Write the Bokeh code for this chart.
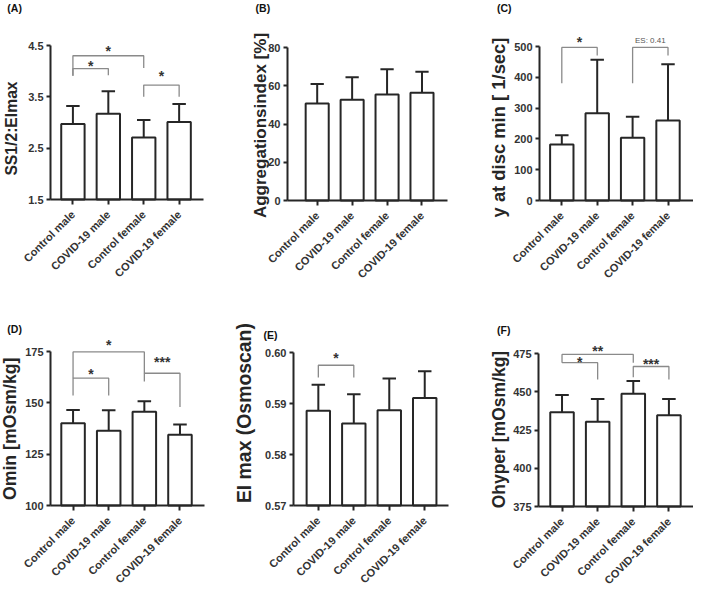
import math
from bokeh.plotting import figure
from bokeh.models import (Range1d, FixedTicker, LabelSet, ColumnDataSource, Label,
                          NumeralTickFormatter)
from bokeh.core.properties import value
from bokeh.layouts import column, row
from bokeh.embed import file_html
from bokeh.resources import INLINE

# ---------------- data ----------------
groups = ["Control male", "COVID-19 male", "Control female", "COVID-19 female"]

ss_mean = [2.97, 3.17, 2.71, 3.01]
ss_sd = [0.35, 0.44, 0.34, 0.35]

agg_mean = [50.7, 52.7, 55.4, 56.4]
agg_sd = [10.2, 11.7, 13.2, 10.9]

gamma_mean = [182, 283, 204, 260]
gamma_sd = [30, 174, 68, 182]

omin_mean = [140.0, 136.4, 145.6, 134.5]
omin_sd = [6.5, 10.0, 5.2, 5.0]

eimax_mean = [0.5886, 0.5861, 0.5887, 0.5911]
eimax_sd = [0.0051, 0.0057, 0.0062, 0.0052]

ohyper_mean = [436.6, 430.4, 448.7, 434.7]
ohyper_sd = [11.2, 14.9, 8.3, 10.6]

# brackets: (group i, group j, bracket y, left leg end, right leg end, label)
ss_brackets = [(0, 2, 4.30, 3.91, 4.06, "*"), (0, 1, 4.05, 3.91, 3.92, "*"),
               (2, 3, 3.73, 3.50, 3.50, "*")]
gamma_brackets = [(0, 1, 497, 381, 471, "*"), (2, 3, 497, 381, 471, "ES: 0.41")]
omin_brackets = [(0, 2, 174.8, 162.0, 164.4, "*"), (0, 1, 162.0, 153.6, 153.6, "*"),
                 (2, 3, 164.4, 160.4, 148.0, "***")]
eimax_brackets = [(0, 1, 0.5975, 0.5951, 0.5951, "*")]
ohyper_brackets = [(0, 2, 474.4, 469.0, 469.0, "**"), (0, 1, 469.0, 469.0, 458.0, "*"),
                   (2, 3, 466.5, 459.5, 458.0, "***")]

# ---------------- style ----------------
DARK = "#262626"
TXT = "#333333"
GRAY = "#8a8a8a"
FONT = "Liberation Sans"
FW, FH = 231, 294


def panel(letter, letter_pos, ylabel, ylabel_size, ylabel_pos, means, sds, yr, yticks,
          fmt, xr, frame, brackets, label_offsets):
    # frame = pixel box (left, top, width, height) of the axes inside the figure
    left, top, w, h = frame
    a, b = xr
    y0, y1 = yr
    u = w / (b - a)
    v = h / (y1 - y0)
    x_full = (a - left / u, b + (FW - left - w) / u)
    y_full = (y0 - (FH - top - h) / v, y1 + top / v)
    p = figure(width=FW, height=FH, output_backend="svg", toolbar_location=None,
               x_range=Range1d(*x_full), y_range=Range1d(*y_full), min_border=0)
    p.outline_line_color = None
    p.grid.visible = False
    p.background_fill_color = "white"
    p.border_fill_color = "white"

    xs = list(range(len(groups)))
    p.vbar(x=xs, width=0.66, top=means, bottom=y0, fill_color="white",
           line_color=DARK, line_width=2)
    tops = [m + s for m, s in zip(means, sds)]
    p.segment(x0=xs, y0=means, x1=xs, y1=tops, line_color=DARK, line_width=2)
    p.segment(x0=[x - 0.19 for x in xs], y0=tops, x1=[x + 0.19 for x in xs], y1=tops,
              line_color=DARK, line_width=2)

    # significance brackets
    bx, by = [], []
    stars = dict(x=[], y=[], text=[], off=[])
    es = dict(x=[], y=[], text=[], off=[])
    for (i, j, y, yl, yrr, txt), off in zip(brackets, label_offsets):
        bx.append([i, i, j, j])
        by.append([yl, y, y, yrr])
        d = es if txt.startswith("ES") else stars
        d["x"].append((i + j) / 2)
        d["y"].append(y)
        d["text"].append(txt)
        d["off"].append(off)
    if bx:
        p.multi_line(xs=bx, ys=by, line_color=GRAY, line_width=1.3)
    if stars["x"]:
        p.add_layout(LabelSet(x="x", y="y", text="text", y_offset="off",
                              source=ColumnDataSource(stars), text_align="center",
                              text_baseline="alphabetic", text_font=value(FONT),
                              text_font_size=value("14px"), text_color=TXT,
                              text_font_style="bold"))
    if es["x"]:
        p.add_layout(LabelSet(x="x", y="y", text="text", y_offset="off",
                              source=ColumnDataSource(es), text_align="center",
                              text_baseline="alphabetic", text_font=value(FONT),
                              text_font_size=value("8px"), text_color="#555555",
                              text_font_style="normal"))

    # axes (fixed inside the full-canvas frame)
    for ax in (p.xaxis[0], p.yaxis[0]):
        ax.axis_line_color = DARK
        ax.axis_line_width = 2
        ax.major_tick_line_color = DARK
        ax.major_tick_line_width = 2
        ax.major_tick_out = 5
        ax.major_tick_in = 0
        ax.minor_tick_line_color = None
        ax.major_label_text_font = FONT
        ax.major_label_text_font_style = "bold"
        ax.major_label_text_color = TXT
    p.xaxis.fixed_location = y0
    p.xaxis.bounds = (a, b)
    p.xaxis.ticker = FixedTicker(ticks=xs)
    p.xaxis.major_label_overrides = {i: g for i, g in enumerate(groups)}
    p.xaxis.major_label_orientation = math.pi / 4
    p.xaxis.major_label_standoff = 8
    p.xaxis.major_label_text_font_size = "11px"
    p.yaxis.fixed_location = a
    p.yaxis.bounds = (y0, y1)
    p.yaxis.ticker = FixedTicker(ticks=yticks)
    p.yaxis.formatter = NumeralTickFormatter(format=fmt)
    p.yaxis.major_label_standoff = 3
    p.yaxis.major_tick_out = 4
    p.yaxis.major_label_text_font_size = "11px"

    # y-axis title (vertical, reading upwards); pos = centre of the lettering
    cx, cy = ylabel_pos
    p.add_layout(Label(x=cx, y=FH - cy, x_units="screen", y_units="screen",
                       angle=math.pi / 2, text=ylabel, text_font=FONT,
                       text_font_style="bold", text_font_size=ylabel_size,
                       text_color=DARK, text_align="center", text_baseline="middle"))

    # panel letter
    lx, ly = letter_pos
    p.add_layout(Label(x=lx, y=FH - ly, x_units="screen", y_units="screen",
                       text=letter, text_font=FONT, text_font_style="bold",
                       text_font_size="10.5px", text_color="#111111",
                       text_baseline="middle", text_align="left"))
    return p


pA = panel("(A)", (6.8, 7.3), "SS1/2:EImax", "15.7px", (10.6, 128), ss_mean, ss_sd,
           (1.5, 4.5), [1.5, 2.5, 3.5, 4.5], "0.0", (-0.633, 3.688), (50, 45, 153, 154),
           ss_brackets, [-0.7, -2.3, 4])
pB = panel("(B)", (24.1, 7.3), "Aggregationsindex [%]", "17px", (28.5, 125), agg_mean,
           agg_sd, (0, 80), [0, 20, 40, 60, 80], "0", (-0.85, 3.73), (56, 47, 160, 153),
           [], [])
pC = panel("(C)", (34.5, 7.6), "y at disc min [ 1/sec]", "18.4px", (36, 127), gamma_mean,
           gamma_sd, (0, 500), [0, 100, 200, 300, 400, 500], "0", (-0.63, 3.72),
           (77, 46, 154, 154), gamma_brackets, [0.6, 4.9])
pD = panel("(D)", (6.8, 34.1), "Omin [mOsm/kg]", "17.7px", (9.8, 134.3), omin_mean,
           omin_sd, (100, 175), [100, 125, 150, 175], "0", (-0.633, 3.688),
           (50, 57, 154, 154), omin_brackets, [2, -0.4, 6])
pE = panel("(E)", (31.9, 40.6), "EI max (Osmoscan)", "19.4px", (12.7, 118.6), eimax_mean,
           eimax_sd, (0.57, 0.60), [0.57, 0.58, 0.59, 0.60], "0.00", (-0.70, 3.67),
           (62, 58, 155, 153), eimax_brackets, [2])
pF = panel("(F)", (34.5, 35), "Ohyper [mOsm/kg]", "17.5px", (36, 135.1), ohyper_mean,
           ohyper_sd, (375, 475), [375, 400, 425, 450, 475], "0", (-0.66, 3.69),
           (76, 59, 155, 153), ohyper_brackets, [-1.4, -4, -2.3])

layout = column(row(pA, pB, pC), row(pD, pE, pF))
open("out.html", "w").write(file_html(layout, INLINE))
